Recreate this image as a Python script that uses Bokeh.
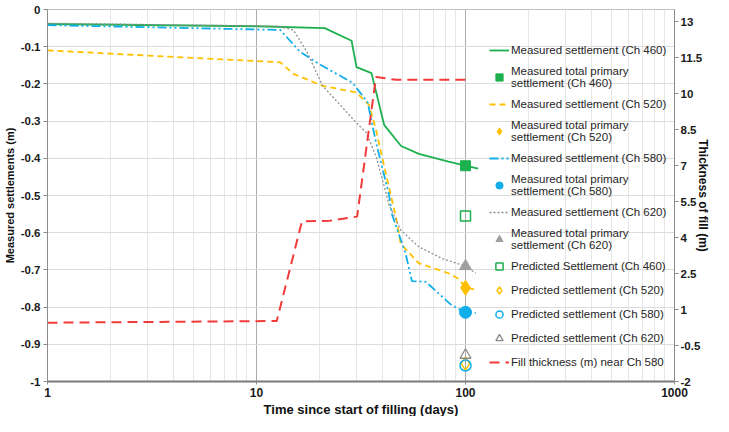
from bokeh.plotting import figure
from bokeh.models import (Range1d, LinearAxis, FixedTicker, CustomJSTickFormatter,
                          Legend, LegendItem, Title)
from bokeh.embed import file_html
from bokeh.resources import INLINE

# ---------------- data ----------------
t_460 = [1, 10, 21.2, 28.5, 30.1, 35.5, 40.8, 49.2, 59.8, 83, 100, 115]
s_460 = [-0.039, -0.045, -0.05, -0.084, -0.155, -0.171, -0.31, -0.367, -0.388, -0.409, -0.42, -0.428]

t_520 = [1, 13, 15, 20.7, 30, 34.6, 37.3, 43.1, 46.5, 49, 59.8, 83, 92.6, 100, 111]
s_520 = [-0.11, -0.142, -0.173, -0.205, -0.223, -0.257, -0.323, -0.48, -0.559, -0.63, -0.682, -0.709, -0.724, -0.747, -0.753]

t_580 = [1, 13, 16.1, 20, 28.8, 34, 37.3, 43.1, 44.5, 51.7, 55.4, 64.6, 85.8, 100, 112]
s_580 = [-0.042, -0.055, -0.113, -0.147, -0.197, -0.249, -0.357, -0.499, -0.551, -0.656, -0.73, -0.732, -0.795, -0.814, -0.816]

t_620 = [1, 12.6, 15, 17.4, 20.7, 30, 33.5, 37.3, 43.1, 49, 59.8, 77, 100, 112]
s_620 = [-0.037, -0.045, -0.055, -0.113, -0.205, -0.304, -0.331, -0.394, -0.525, -0.593, -0.638, -0.669, -0.69, -0.709]

t_fill = [1, 12.5, 16.5, 22.4, 30.3, 37.3, 46.6, 100]
h_fill = [0.45, 0.52, 4.67, 4.7, 4.87, 10.69, 10.57, 10.57]

t_mark = [100]
mtp_460 = [-0.42]
mtp_520 = [-0.748]
mtp_580 = [-0.814]
mtp_620 = [-0.69]
pred_460 = [-0.555]
pred_520 = [-0.952]
pred_580 = [-0.957]
pred_620 = [-0.929]

x_ticks = [1, 10, 100, 1000]
x_minor = [m * d for d in (1, 10, 100) for m in range(2, 10)]
y_ticks = [0, -0.1, -0.2, -0.3, -0.4, -0.5, -0.6, -0.7, -0.8, -0.9, -1]
fill_ticks = [-2, -0.5, 1, 2.5, 4, 5.5, 7, 8.5, 10, 11.5, 13]

labels = [
    "Measured settlement (Ch 460)",
    "Measured total primary\nsettlement (Ch 460)",
    "Measured settlement (Ch 520)",
    "Measured total primary\nsettlement (Ch 520)",
    "Measured settlement (Ch 580)",
    "Measured total primary\nsettlement (Ch 580)",
    "Measured settlement (Ch 620)",
    "Measured total primary\nsettlement (Ch 620)",
    "Predicted Settlement (Ch 460)",
    "Predicted settlement (Ch 520)",
    "Predicted settlement (Ch 580)",
    "Predicted settlement (Ch 620)",
    "Fill thickness (m) near Ch 580",
]

GREEN = "#1db04e"
ORANGE = "#ffc000"
BLUE = "#12aeea"
GRAY = "#8f8f8f"
RED = "#f23a3a"
FONT = "Liberation Sans"

p = figure(width=713, height=416, x_axis_type="log",
           x_range=Range1d(1, 1000), y_range=Range1d(-1, 0),
           output_backend="svg", toolbar_location=None,
           min_border_top=9, min_border_left=0, min_border_right=0, min_border_bottom=0)
p.extra_y_ranges = {"fill": Range1d(-2, 13.5)}
p.outline_line_color = "#bfbfbf"
p.background_fill_color = "white"
p.border_fill_color = "white"

# axes
p.xaxis.ticker = FixedTicker(ticks=x_ticks, minor_ticks=x_minor)
p.xaxis.formatter = CustomJSTickFormatter(code="return tick.toString();")
p.yaxis.ticker = FixedTicker(ticks=y_ticks)
p.yaxis.formatter = CustomJSTickFormatter(code="return tick.toString();")
p.yaxis[0].axis_label = "Measured settlements (m)"

ax_r = LinearAxis(y_range_name="fill", ticker=FixedTicker(ticks=fill_ticks),
                  formatter=CustomJSTickFormatter(code="return tick.toString();"),
                  axis_label="Thickness of fill (m)")
p.add_layout(ax_r, "right")

for ax in [p.xaxis[0], p.yaxis[0], ax_r]:
    ax.major_label_text_font = FONT
    ax.major_label_text_font_style = "bold"
    ax.major_label_text_font_size = "11.5px"
    ax.major_label_text_color = "#1a1a1a"
    ax.axis_label_text_font = FONT
    ax.axis_label_text_font_style = "bold"
    ax.axis_label_text_font_size = "11px"
    ax.axis_label_text_color = "#111111"
    ax.axis_line_color = "#8c8c8c"
    ax.major_tick_line_color = "#8c8c8c"
    ax.major_tick_in = 0
    ax.major_tick_out = 4
    ax.minor_tick_line_color = None
    ax.major_label_standoff = 3
    ax.axis_label_standoff = 2

p.xaxis.major_label_text_font_size = "12px"
p.xaxis.axis_line_width = 2
p.xaxis.axis_line_color = "#7a7a7a"
p.xaxis.major_label_standoff = 2
p.xaxis.major_tick_out = 3

ax_r.axis_label_text_font_size = "12px"
ax_r.axis_label_standoff = -9
ax_r.major_label_standoff = 2

# x-axis title as a below-panel title
p.add_layout(Title(text="Time since start of filling (days)", align="center",
                   text_font=FONT, text_font_style="bold", text_font_size="13px",
                   text_color="#111111", standoff=0), "below")

# grids
p.ygrid.ticker = FixedTicker(ticks=y_ticks)
p.ygrid.grid_line_color = "#dcdcdc"
p.xgrid.grid_line_color = "#ababab"
p.xgrid.minor_grid_line_color = "#e6e6e6"

# lines
r1 = p.line(t_460, s_460, line_color=GREEN, line_width=1.8)
r3 = p.line(t_520, s_520, line_color=ORANGE, line_width=1.8, line_dash="6 4")
r5 = p.line(t_580, s_580, line_color=BLUE, line_width=1.8, line_dash="9 3 2 3 2 3")
r7 = p.line(t_620, s_620, line_color=GRAY, line_width=1.3, line_dash="2 2")
r13 = p.line(t_fill, h_fill, y_range_name="fill", line_color=RED, line_width=2, line_dash="10 6")

# measured total primary
r2 = p.scatter(t_mark, mtp_460, marker="square", size=10, fill_color=GREEN, line_color=GREEN)
r4 = p.scatter(t_mark, mtp_520, marker="diamond", size=15, fill_color=ORANGE, line_color=ORANGE)
r6 = p.scatter(t_mark, mtp_580, marker="circle", size=12, fill_color=BLUE, line_color=BLUE)
r8 = p.scatter(t_mark, mtp_620, marker="triangle", size=12, fill_color="#a0a0a0", line_color="#a0a0a0")

# predicted
r9 = p.scatter(t_mark, pred_460, marker="square", size=10, fill_color=None, line_color=GREEN, line_width=1.5)
r10 = p.scatter(t_mark, pred_520, marker="diamond", size=13, fill_color=None, line_color=ORANGE, line_width=1.5)
r11 = p.scatter(t_mark, pred_580, marker="circle", size=11, fill_color=None, line_color=BLUE, line_width=1.5)
r12 = p.scatter(t_mark, pred_620, marker="triangle", size=11, fill_color=None, line_color="#8a8a8a", line_width=1.3)

rends = [r1, r2, r3, r4, r5, r6, r7, r8, r9, r10, r11, r12, r13]
legend = Legend(items=[LegendItem(label=l, renderers=[r]) for l, r in zip(labels, rends)],
                location=(438, 6))
legend.label_text_font = FONT
legend.label_text_font_size = "11.5px"
legend.label_text_color = "#262626"
legend.label_text_line_height = 1.1
legend.glyph_width = 20
legend.glyph_height = 18
legend.label_height = 18
legend.label_standoff = 2
legend.spacing = 6
legend.padding = 4
legend.margin = 0
legend.background_fill_alpha = 0
legend.border_line_alpha = 0
p.add_layout(legend)

open("out.html", "w").write(file_html(p, INLINE))
